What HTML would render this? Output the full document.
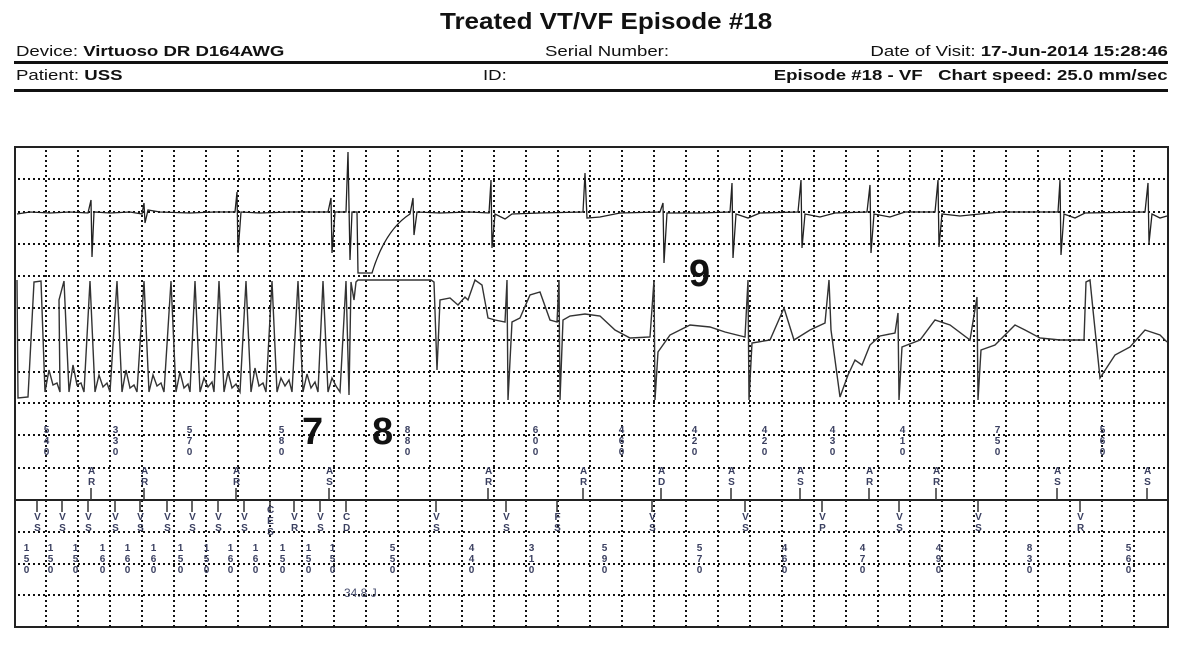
<!DOCTYPE html>
<html><head><meta charset="utf-8"><style>
body{margin:0;background:#fff;width:1200px;height:646px;overflow:hidden;position:relative;font-family:"Liberation Sans",Arial,sans-serif;color:#111}
.a{position:absolute;white-space:nowrap}
.h{font-size:15px;transform:scaleX(1.24)}
.l{transform-origin:left center}
.r{transform-origin:right center}
.v{position:absolute;width:7px;word-break:break-all;font-size:10px;line-height:11px;font-weight:bold;color:#3a3f60;text-align:center}
.big{position:absolute;font-weight:bold;font-size:38px;color:#111;line-height:1}
</style></head><body>
<div class="a" style="left:440px;top:8px;font-size:23px;font-weight:bold;transform:scaleX(1.13);transform-origin:left center">Treated VT/VF Episode #18</div>
<div class="a h l" style="left:16px;top:43px">Device: <b>Virtuoso DR D164AWG</b></div>
<div class="a h l" style="left:545px;top:43px">Serial Number:</div>
<div class="a h r" style="right:32px;top:43px">Date of Visit: <b>17-Jun-2014 15:28:46</b></div>
<div class="a" style="left:14px;top:61px;width:1154px;height:3px;background:#111"></div>
<div class="a h l" style="left:16px;top:67px">Patient: <b>USS</b></div>
<div class="a h l" style="left:483px;top:67px">ID:</div>
<div class="a h r" style="right:32px;top:67px"><b>Episode #18 - VF&nbsp;&nbsp; Chart speed: 25.0 mm/sec</b></div>
<div class="a" style="left:14px;top:89px;width:1154px;height:3px;background:#111"></div>

<svg class="a" style="left:0;top:0" width="1200" height="646">
<rect x="15" y="147" width="1153" height="480" fill="none" stroke="#222" stroke-width="2"/>
<g stroke="#111" stroke-width="2" stroke-dasharray="2 3" fill="none">
<path d="M46 150V627M78 150V627M110 150V627M142 150V627M174 150V627M206 150V627M238 150V627M270 150V627M302 150V627M334 150V627M366 150V627M398 150V627M430 150V627M462 150V627M494 150V627M526 150V627M558 150V627M590 150V627M622 150V627M654 150V627M686 150V627M718 150V627M750 150V627M782 150V627M814 150V627M846 150V627M878 150V627M910 150V627M942 150V627M974 150V627M1006 150V627M1038 150V627M1070 150V627M1102 150V627M1134 150V627"/>
<path d="M18 179H1166M18 212H1166M18 244H1166M18 276H1166M18 308H1166M18 340H1166M18 372H1166M18 403H1166M18 435H1166M18 468H1166M18 532H1166M18 564H1166M18 595H1166"/>
</g>
<line x1="15" y1="500" x2="1168" y2="500" stroke="#222" stroke-width="2"/>
<path fill="none" stroke="#222" stroke-width="1.3" d="M17 214 L30 212 L50 213 L70 212 L88 213 L91 200 L92 257 L94 212 L110 213 L130 212 L142 214 L144 203 L145 223 L148 210 L160 212 L190 213 L215 212 L235 212 L237 192 L238 253 L241 212 L260 213 L290 212 L328 212 L331 198 L332 253 L335 212 L346 212 L348 152 L350 260 L352 212 L357 212 L358 273 L372 273 Q385 230 410 214 L413 198 L414 235 L417 212 L440 213 L470 212 L489 213 L491 180 L492 248 L495 214 L505 219 L512 214 L540 213 L583 212 L585 173 L587 218 L600 217 L620 213 L660 212 L663 203 L664 263 L667 213 L700 213 L730 212 L732 183 L733 258 L736 214 L748 218 L760 213 L798 212 L801 180 L802 248 L805 214 L820 217 L835 213 L867 212 L870 185 L871 253 L874 214 L890 217 L905 212 L935 212 L938 180 L939 247 L942 214 L960 216 L1000 212 L1058 212 L1060 180 L1061 255 L1064 214 L1075 218 L1085 213 L1145 212 L1148 183 L1149 243 L1152 214 L1160 218 L1167 216"/>
<path fill="none" stroke="#333" stroke-width="1.4" d="M17 280 L18 398 L28 397 L34 282 L41 281 L45 392 L49 370 L53 385 L57 383 L60 392
L59 300 L64 281 L69 392 L73 365 L77 385 L81 383 L84 392 L90 281 L95 392 L99 375 L103 387 L107 383 L110 392 L117 281 L122 392 L126 370 L130 388 L134 385 L137 392 L144 281 L149 392 L153 375 L157 386 L161 383 L164 392 L171 281 L176 392 L180 372 L184 388 L188 384 L190 392 L195 281 L200 392 L204 378 L208 387 L212 382 L214 392 L219 281 L224 392 L228 372 L232 388 L236 384 L240 392 L246 281 L251 392 L255 368 L259 386 L263 383 L266 392 L272 281 L277 392 L281 378 L285 386 L289 380 L292 392 L298 281 L303 392 L307 374 L311 388 L315 382 L318 392 L323 281 L328 392 L332 378 L336 386 L340 392 L346 281 L349 395 L351 282 L354 300 L356 282 L358 280 L431 280 L434 282 L437 370 L440 300 L450 298 L458 305 L465 297 L468 300 L475 280 L482 285 L488 318 L495 320 L505 322 L507 280 L508 400 L512 322 L520 318 L530 295 L540 292 L550 320 L557 322 L559 280 L560 400 L563 320 L570 316 L585 314 L600 316 L615 330 L630 338 L650 337 L654 280 L655 400 L658 352 L670 335 L690 325 L710 327 L725 332 L745 337 L748 280 L749 400 L752 343 L770 340 L784 308 L794 340 L810 330 L825 323 L829 280 L831 330 L840 397 L848 375 L855 360 L862 365 L870 345 L880 336 L895 333 L898 313 L899 400 L902 347 L920 340 L935 320 L950 325 L970 340 L977 297 L978 400 L981 350 L995 345 L1015 325 L1025 330 L1040 338 L1060 340 L1084 340 L1086 282 L1090 280 L1093 310 L1100 378 L1115 355 L1130 347 L1145 330 L1160 335 L1167 342"/>
<g stroke="#333" stroke-width="1.5">
<path d="M91 488V500M144 488V500M236 488V500M329 488V500M488 488V500M583 488V500M661 488V500M731 488V500M800 488V500M869 488V500M936 488V500M1057 488V500M1147 488V500"/>
<path d="M37 500V512M62 500V512M88 500V512M115 500V512M140 500V512M167 500V512M192 500V512M218 500V512M244 500V512M270 500V512M294 500V512M320 500V512M346 500V512M436 500V512M506 500V512M557 500V512M652 500V512M745 500V512M822 500V512M899 500V512M978 500V512M1080 500V512"/>
</g>
</svg>

<div class="v" style="left:43px;top:425px">540</div><div class="v" style="left:112px;top:425px">330</div><div class="v" style="left:186px;top:425px">570</div><div class="v" style="left:278px;top:425px">580</div><div class="v" style="left:404px;top:425px">880</div>
<div class="v" style="left:532px;top:425px">600</div><div class="v" style="left:618px;top:425px">460</div><div class="v" style="left:691px;top:425px">420</div><div class="v" style="left:761px;top:425px">420</div><div class="v" style="left:829px;top:425px">430</div><div class="v" style="left:899px;top:425px">410</div><div class="v" style="left:994px;top:425px">750</div><div class="v" style="left:1099px;top:425px">560</div>

<div class="v" style="left:88px;top:466px">AR</div><div class="v" style="left:141px;top:466px">AR</div><div class="v" style="left:233px;top:466px">AR</div><div class="v" style="left:326px;top:466px">AS</div><div class="v" style="left:485px;top:466px">AR</div><div class="v" style="left:580px;top:466px">AR</div><div class="v" style="left:658px;top:466px">AD</div><div class="v" style="left:728px;top:466px">AS</div><div class="v" style="left:797px;top:466px">AS</div><div class="v" style="left:866px;top:466px">AR</div><div class="v" style="left:933px;top:466px">AR</div><div class="v" style="left:1054px;top:466px">AS</div><div class="v" style="left:1144px;top:466px">AS</div>

<div class="v" style="left:34px;top:512px">VS</div><div class="v" style="left:59px;top:512px">VS</div><div class="v" style="left:85px;top:512px">VS</div><div class="v" style="left:112px;top:512px">VS</div><div class="v" style="left:137px;top:512px">VS</div><div class="v" style="left:164px;top:512px">VS</div><div class="v" style="left:189px;top:512px">VS</div><div class="v" style="left:215px;top:512px">VS</div><div class="v" style="left:241px;top:512px">VS</div><div class="v" style="left:267px;top:505px">CES</div><div class="v" style="left:291px;top:512px">VR</div><div class="v" style="left:317px;top:512px">VS</div><div class="v" style="left:343px;top:512px">CD</div>
<div class="v" style="left:433px;top:512px">VS</div><div class="v" style="left:503px;top:512px">VS</div><div class="v" style="left:554px;top:512px">FS</div><div class="v" style="left:649px;top:512px">VS</div><div class="v" style="left:742px;top:512px">VS</div><div class="v" style="left:819px;top:512px">VP</div><div class="v" style="left:896px;top:512px">VS</div><div class="v" style="left:975px;top:512px">VS</div><div class="v" style="left:1077px;top:512px">VR</div>

<div class="v" style="left:23px;top:543px">150</div><div class="v" style="left:47px;top:543px">150</div><div class="v" style="left:72px;top:543px">150</div><div class="v" style="left:99px;top:543px">160</div><div class="v" style="left:124px;top:543px">160</div><div class="v" style="left:150px;top:543px">160</div><div class="v" style="left:177px;top:543px">150</div><div class="v" style="left:203px;top:543px">150</div><div class="v" style="left:227px;top:543px">160</div><div class="v" style="left:252px;top:543px">160</div><div class="v" style="left:279px;top:543px">150</div><div class="v" style="left:305px;top:543px">150</div><div class="v" style="left:329px;top:543px">150</div><div class="v" style="left:389px;top:543px">550</div>
<div class="v" style="left:468px;top:543px">440</div><div class="v" style="left:528px;top:543px">310</div><div class="v" style="left:601px;top:543px">590</div><div class="v" style="left:696px;top:543px">570</div><div class="v" style="left:781px;top:543px">460</div><div class="v" style="left:859px;top:543px">470</div><div class="v" style="left:935px;top:543px">490</div><div class="v" style="left:1026px;top:543px">830</div><div class="v" style="left:1125px;top:543px">560</div>

<div class="a" style="left:344px;top:586px;font-size:12px;color:#4a5070">34.8 J</div>
<div class="big" style="left:302px;top:413px">7</div>
<div class="big" style="left:372px;top:413px">8</div>
<div class="big" style="left:689px;top:255px">9</div>
</body></html>
